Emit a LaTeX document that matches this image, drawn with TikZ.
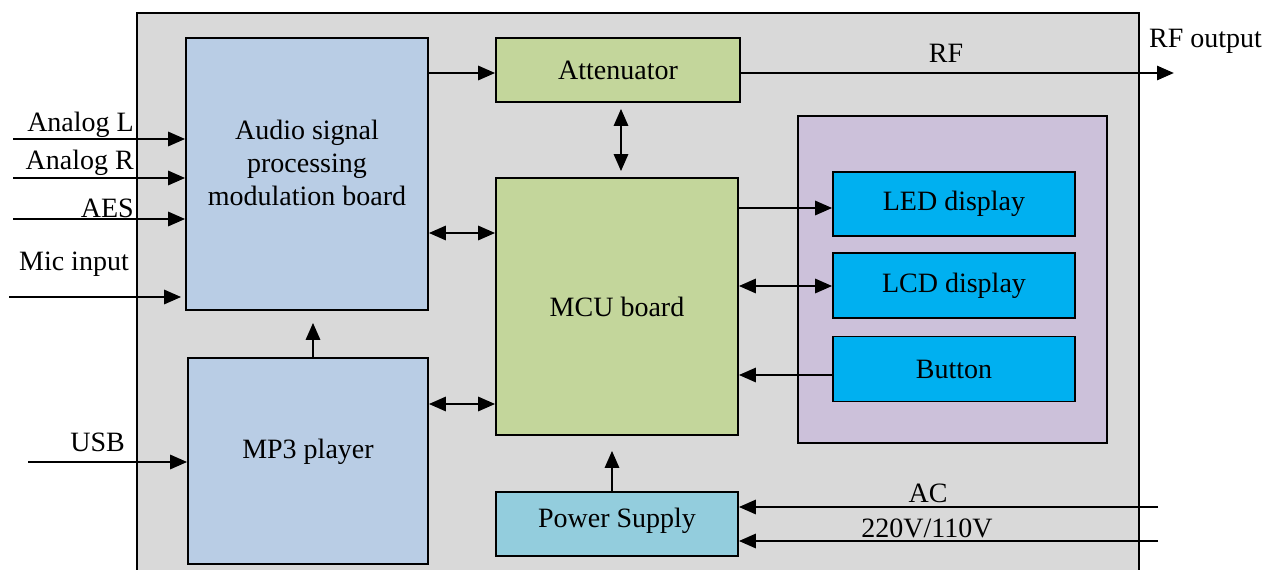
\documentclass[tikz,border=0pt]{standalone}
\usepackage{fontspec}
\setmainfont{Liberation Serif}
\usetikzlibrary{arrows.meta}
\definecolor{bggray}{HTML}{D9D9D9}
\definecolor{audioblue}{HTML}{B9CDE5}
\definecolor{mcugreen}{HTML}{C3D69B}
\definecolor{pwrblue}{HTML}{93CDDD}
\definecolor{panelpurple}{HTML}{CCC1DA}
\definecolor{dispcyan}{HTML}{00B0F0}
\begin{document}
\begin{tikzpicture}[x=1pt,y=-1pt,
  box/.style={draw=black, line width=1.6pt, rectangle, inner sep=0pt, align=center,
    font=\fontsize{28}{33}\selectfont},
  txt/.style={inner sep=0pt, align=center, font=\fontsize{28}{33}\selectfont},
  lbl/.style={inner sep=0pt, font=\fontsize{28}{33}\selectfont},
  arr/.style={line width=2.8pt, -{Triangle[length=17pt,width=14pt]}},
  darr/.style={line width=2.8pt, {Triangle[length=17pt,width=14pt]}-{Triangle[length=17pt,width=14pt]}}]
\clip (0,0) rectangle (1275,570);
\fill[white] (0,0) rectangle (1275,570);
% outer frame
\node[box, fill=bggray, line width=2pt, minimum width=1002pt, minimum height=600pt, anchor=north west] (frame) at (136,12) {};
% blocks
\node[box, fill=audioblue, minimum width=242pt, minimum height=272pt] (audio) at (307,174) {};
\node[txt] (audiotxt) at (307,163) {Audio signal\\processing\\modulation board};
\node[box, fill=mcugreen, minimum width=244pt, minimum height=64pt] (att) at (618,70) {Attenuator};
\node[box, fill=mcugreen, minimum width=242pt, minimum height=257pt] (mcu) at (617,306.5) {MCU board};
\node[box, fill=audioblue, minimum width=240pt, minimum height=206pt] (mp3) at (308,461) {};
\node[txt] (mp3txt) at (308,452) {MP3 player};
\node[box, fill=pwrblue, minimum width=242pt, minimum height=64pt] (pwr) at (617,524) {};
\node[txt] (pwrtxt) at (617,521) {Power Supply};
\node[box, fill=panelpurple, minimum width=309pt, minimum height=327pt] (panel) at (952.5,279.5) {};
\node[box, fill=dispcyan, minimum width=242pt, minimum height=64pt] (led) at (954,204) {LED display};
\node[box, fill=dispcyan, minimum width=242pt, minimum height=65pt] (lcd) at (954,285.5) {LCD display};
\node[box, fill=dispcyan, minimum width=242pt, minimum height=65pt] (btn) at (954,369) {Button};
% free ends
\coordinate (inL) at (13,139);
\coordinate (inR) at (13,178);
\coordinate (inAES) at (13,219);
\coordinate (inMic) at (9,297);
\coordinate (inUSB) at (28,462);
\coordinate (rfout) at (1174,73);
\coordinate (ac1) at (1158,507);
\coordinate (ac2) at (1158,541);
% input arrows
\draw[arr] (inL) -- (audio.west |- inL);
\draw[arr] (inR) -- (audio.west |- inR);
\draw[arr] (inAES) -- (audio.west |- inAES);
\draw[arr] (inMic) -- ([xshift=-4pt]audio.west |- inMic);
\draw[arr] (inUSB) -- (mp3.west |- inUSB);
% labels
\node[lbl, anchor=base east] (lblL) at (134,131) {Analog L};
\node[lbl, anchor=base east] (lblR) at (134,169) {Analog R};
\node[lbl, anchor=base east] (lblAES) at (134,217) {AES};
\node[lbl, anchor=base east] (lblMic) at (129,270) {Mic input};
\node[lbl, anchor=base east] (lblUSB) at (125,451) {USB};
% internal connectors
\draw[arr] (audio.east |- 0,73) -- (att.west |- 0,73);
\draw[arr] (att.east |- rfout) -- (rfout);
\node[lbl, anchor=base] (lblRF) at (946,62) {RF};
\node[lbl, anchor=base west] (lblRFout) at (1149,47) {RF output};
\draw[darr] ([yshift=-6pt]att.south -| 621,0) -- ([yshift=6pt]mcu.north -| 621,0);
\draw[darr] (audio.east |- 0,233) -- (mcu.west |- 0,233);
\draw[darr] (mp3.east |- 0,404) -- (mcu.west |- 0,404);
\draw[arr] (mp3.north -| 313,0) -- ([yshift=-12pt]audio.south -| 313,0);
\draw[arr] (mcu.east |- 0,208) -- (led.west |- 0,208);
\draw[darr] (mcu.east |- 0,286) -- (lcd.west |- 0,286);
\draw[arr] (btn.west |- 0,375) -- (mcu.east |- 0,375);
\draw[arr] (pwr.north -| 612,0) -- ([yshift=-15pt]mcu.south -| 612,0);
\draw[arr] (ac1) -- (pwr.east |- ac1);
\draw[arr] (ac2) -- (pwr.east |- ac2);
\node[lbl, anchor=base] (lblAC) at (928,502) {AC};
\node[lbl, anchor=base] (lblV) at (927,537) {220V/110V};
\end{tikzpicture}
\end{document}
